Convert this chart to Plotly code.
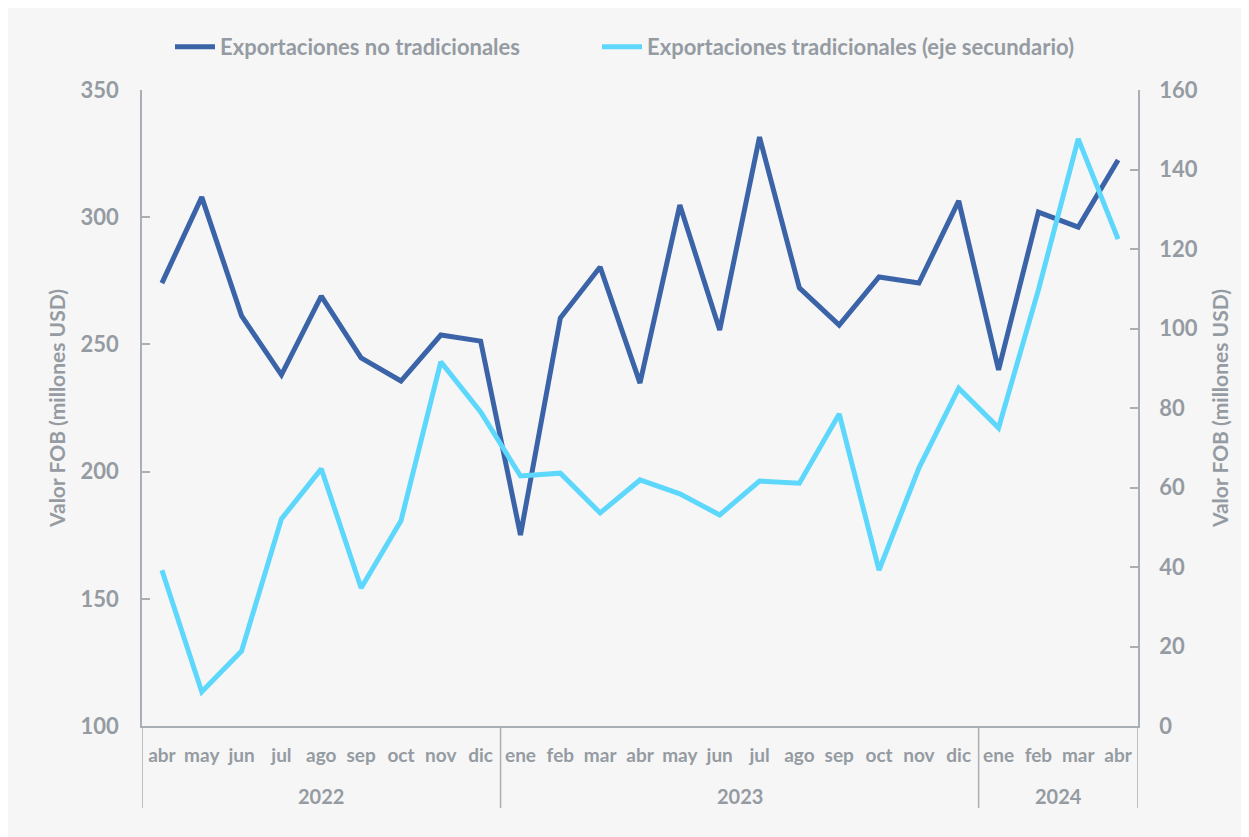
import plotly.graph_objects as go

years = ["2022"] * 9 + ["2023"] * 12 + ["2024"] * 4
months = ["abr", "may", "jun", "jul", "ago", "sep", "oct", "nov", "dic",
          "ene", "feb", "mar", "abr", "may", "jun", "jul", "ago", "sep", "oct", "nov", "dic",
          "ene", "feb", "mar", "abr"]

no_tradicionales = [274.1, 307.9, 261.2, 238.0, 269.0, 244.7, 235.6, 253.7, 251.3,
                    175.1, 260.4, 280.4, 234.8, 304.8, 255.7, 331.5, 272.2, 257.6, 276.5, 274.1, 306.4,
                    240.0, 302.0, 296.1, 322.5]
tradicionales = [39.2, 8.6, 18.9, 52.1, 64.7, 34.7, 51.6, 91.6, 79.0,
                 62.9, 63.6, 53.6, 61.9, 58.4, 53.1, 61.6, 61.1, 78.5, 39.2, 64.9, 85.0,
                 75.0, 109.7, 147.7, 122.5]

GRAY = "#959ba2"
AXIS = "#a9afb5"
FONT = "Lato"

idx = list(range(len(months)))

fig = go.Figure()
fig.add_trace(go.Scatter(x=idx, y=no_tradicionales, mode="lines",
                         name="Exportaciones no tradicionales",
                         line=dict(color="#3b63a8", width=5), legend="legend"))
fig.add_trace(go.Scatter(x=idx, y=tradicionales, mode="lines",
                         name="Exportaciones tradicionales (eje secundario)",
                         line=dict(color="#5dd8fc", width=5), yaxis="y2", legend="legend2"))

W, H = 1257, 837
OFF = 8  # page body margin
L, R, T, B = 142 - OFF, 1138 - OFF, 90 - OFF, 726 - OFF

def px(v):
    return (v - OFF - L) / (R - L)

def py(v):
    return (B - (v - OFF)) / (B - T)

def tf(size):
    return dict(size=size, color=GRAY, family=FONT, weight=700)

leg = dict(orientation="h", xanchor="left", y=py(47), yanchor="middle",
           font=tf(22), bgcolor="rgba(0,0,0,0)", itemwidth=40)

fig.update_layout(
    width=W, height=H,
    margin=dict(l=L, r=W - R, t=T, b=H - B, autoexpand=False),
    paper_bgcolor="#f6f6f6",
    plot_bgcolor="#f6f6f6",
    font=dict(family=FONT, color=GRAY, size=18, weight=700),
    showlegend=True,
    legend=dict(leg, x=px(170)),
    legend2=dict(leg, x=px(597)),
    xaxis=dict(range=[-0.5, len(months) - 0.5], tickmode="array", tickvals=idx, ticktext=months,
               showline=True, linecolor=AXIS, linewidth=1.5, ticks="", showgrid=False,
               tickfont=tf(19), tickangle=0, zeroline=False, automargin=False,
               ticklabelstandoff=11),
    yaxis=dict(range=[100, 350], dtick=50, showline=True, linecolor=AXIS, linewidth=1.5,
               ticks="inside", ticklen=8, tickcolor=AXIS, tickwidth=1.5, showgrid=False,
               zeroline=False, ticklabelstandoff=17, automargin=False,
               tickfont=tf(22),
               title=dict(text="Valor FOB (millones USD)", standoff=9, font=tf(21))),
    yaxis2=dict(range=[0, 160], dtick=20, overlaying="y", side="right", showline=True,
                linecolor=AXIS, linewidth=1.5, ticks="inside", ticklen=8, tickcolor=AXIS,
                tickwidth=1.5, showgrid=False, zeroline=False, ticklabelstandoff=15,
                automargin=False, tickfont=tf(22),
                title=dict(text="Valor FOB (millones USD)", standoff=17, font=tf(21))),
)

# year group labels and dividers, derived from the years list
groups = []
for i, yv in enumerate(years):
    if not groups or groups[-1][0] != yv:
        groups.append([yv, i, i])
    else:
        groups[-1][2] = i

bounds = set()
for yv, s, e in groups:
    fig.add_annotation(x=(s + e) / 2, y=py(796), xref="x", yref="paper", text=yv,
                       showarrow=False, font=tf(20), xanchor="center", yanchor="middle")
    bounds.add(s - 0.5)
    bounds.add(e + 0.5)
for b in sorted(bounds):
    fig.add_shape(type="line", xref="x", yref="paper", x0=b, x1=b, y0=0, y1=py(808),
                  line=dict(color=AXIS, width=1.5), layer="above")

fig.write_html("out.html")
